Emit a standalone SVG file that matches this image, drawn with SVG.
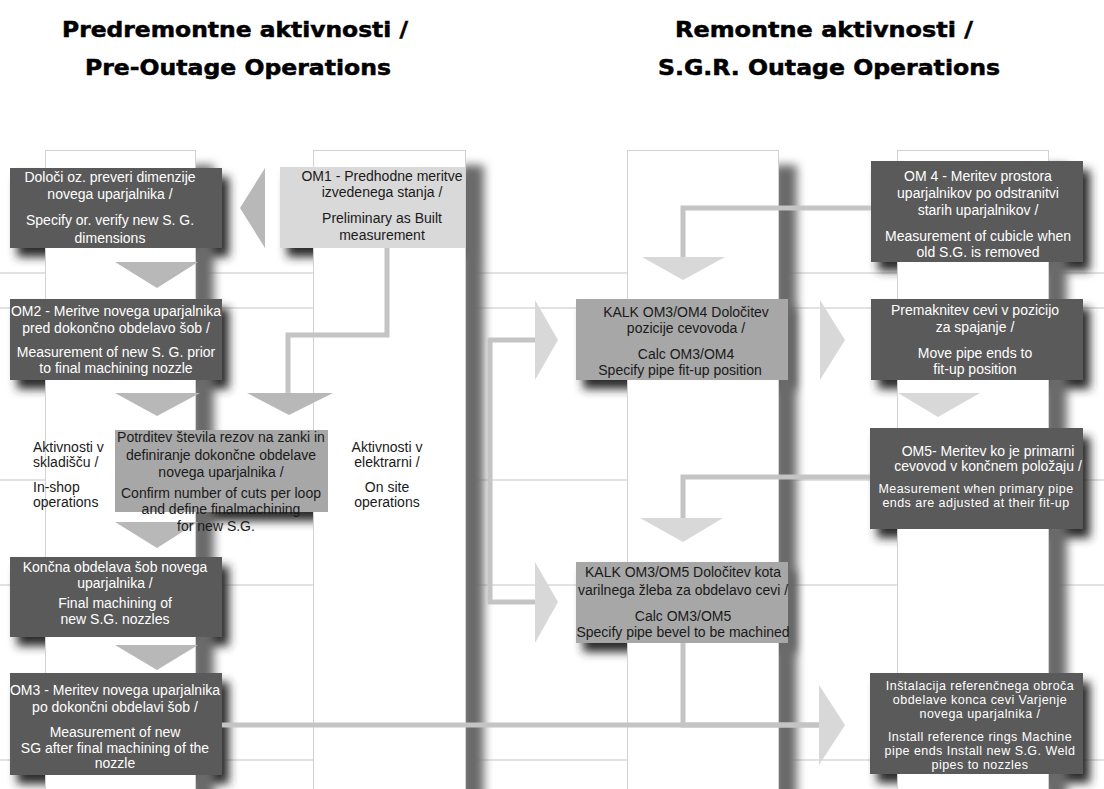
<svg xmlns="http://www.w3.org/2000/svg" width="1104" height="789" viewBox="0 0 1104 789">
<defs>
<filter id="blur" x="-20%" y="-20%" width="140%" height="140%"><feGaussianBlur stdDeviation="5"/></filter>
<filter id="cblur" x="-50%" y="-5%" width="200%" height="110%"><feGaussianBlur stdDeviation="5"/></filter>
</defs>
<style>
.col{fill:#ffffff;stroke:#d2d2d2;stroke-width:1}
.dk{fill:#5a5a5a}
.md{fill:#a7a7a7}
.lt{fill:#d9d9d9}
.tw{font-family:"Liberation Sans",Arial,sans-serif;font-size:14px;fill:#ffffff;text-anchor:middle}
.ts{font-size:12.5px;letter-spacing:0.45px}
.tb{font-family:"Liberation Sans",Arial,sans-serif;font-size:14px;fill:#1a1a1a;text-anchor:middle}
.tl{font-family:"Liberation Sans",Arial,sans-serif;font-size:14px;fill:#1a1a1a}
.h{font-family:"DejaVu Sans",sans-serif;font-weight:bold;font-size:21px;fill:#000;stroke:#000;stroke-width:0.5;text-anchor:middle}
.bar{fill:none;stroke:#c4c4c4;stroke-width:5}
.a1{fill:#b8b8b8}
.a2{fill:#d8d8d8}
.hl{stroke:#e2e2e2;stroke-width:2}
.sh{fill:#2a2a2a}
.csh{fill:#6a6a6a}
</style>
<rect x="0" y="0" width="1104" height="789" fill="#ffffff"/>

<g id="headings">
<text class="h" x="235" y="37" textLength="346" lengthAdjust="spacingAndGlyphs">Predremontne aktivnosti /</text>
<text class="h" x="238" y="75" textLength="306" lengthAdjust="spacingAndGlyphs">Pre-Outage Operations</text>
<text class="h" x="824" y="37" textLength="298" lengthAdjust="spacingAndGlyphs">Remontne aktivnosti  /</text>
<text class="h" x="829" y="75" textLength="342" lengthAdjust="spacingAndGlyphs">S.G.R. Outage Operations</text>
</g>

<g id="gridlines">
<line class="hl" x1="0" y1="273" x2="1104" y2="273"/>
<line class="hl" x1="0" y1="308" x2="1104" y2="308"/>
<line class="hl" x1="0" y1="480" x2="1104" y2="480"/>
<line class="hl" x1="0" y1="585" x2="1104" y2="585"/>
<line class="hl" x1="0" y1="760" x2="1104" y2="760"/>
</g>

<g id="shadows" filter="url(#blur)">
<rect class="sh" x="17" y="177" width="212" height="80"/>
<rect class="sh" x="287" y="176" width="185" height="81"/>
<rect class="sh" x="17" y="308" width="212" height="81"/>
<rect class="sh" x="122" y="439" width="213" height="82"/>
<rect class="sh" x="17" y="566" width="212" height="80"/>
<rect class="sh" x="17" y="682" width="212" height="102"/>
<rect class="sh" x="583" y="308" width="212" height="81"/>
<rect class="sh" x="583" y="571" width="212" height="81"/>
<rect class="sh" x="878" y="170" width="212" height="101"/>
<rect class="sh" x="878" y="308" width="212" height="81"/>
<rect class="sh" x="877" y="437" width="213" height="101"/>
<rect class="sh" x="877" y="682" width="213" height="101"/>
</g>

<g id="columns">
<g filter="url(#cblur)">
<rect class="csh" x="190" y="165" width="24" height="640"/>
<rect class="csh" x="460" y="165" width="24" height="640"/>
<rect class="csh" x="773" y="165" width="24" height="640"/>
<rect class="csh" x="1043" y="165" width="24" height="640"/>
</g>
<rect class="col" x="45.5" y="150.5" width="150" height="650"/>
<rect class="col" x="313.5" y="150.5" width="152" height="650"/>
<rect class="col" x="627.5" y="150.5" width="151" height="650"/>
<rect class="col" x="897.5" y="150.5" width="151" height="650"/>
</g>

<g id="connectors">
<polygon class="a1" points="265,168 265,248 240,208"/>
<polygon class="a1" points="115,262 198,262 157,288"/>
<polygon class="a1" points="115,393 200,393 157,416"/>
<polygon class="a1" points="115,522 198,522 157,548"/>
<polygon class="a1" points="115,645 198,645 157,670"/>
<path class="bar" d="M387 248 V335 H288 V393" stroke="#b8b8b8"/>
<polygon class="a1" points="247,393 333,393 289,415"/>
<path class="bar" d="M537 340 H490 V602 H537"/>
<polygon class="a2" points="535,300 535,380 558,340"/>
<polygon class="a2" points="535,562 535,643 558,602"/>
<polygon class="a2" points="820,300 820,380 845,340"/>
<path class="bar" d="M871 208 H683 V258"/>
<polygon class="a2" points="642,257 725,257 683,280"/>
<polygon class="a2" points="898,393 980,393 938,417"/>
<path class="bar" d="M870 477 H683 V519"/>
<polygon class="a2" points="640,518 723,518 683,542"/>
<path class="bar" d="M683 643 V725 H821"/>
<path class="bar" d="M222 725 H821"/>
<polygon class="a2" points="819,685 819,765 845,725"/>
</g>

<g id="n-dimenzije">
<rect class="dk" x="10" y="168" width="212" height="80"/>
<text class="tw" x="110" y="182">Določi oz. preveri dimenzije</text>
<text class="tw" x="110" y="199">novega uparjalnika  /</text>
<text class="tw" x="110" y="225">Specify or. verify new S. G.</text>
<text class="tw" x="110" y="243">dimensions</text>
</g>

<g id="n-om1">
<rect class="lt" x="280" y="167" width="185" height="81"/>
<text class="tb" x="382" y="181">OM1 - Predhodne meritve</text>
<text class="tb" x="382" y="197">izvedenega stanja /</text>
<text class="tb" x="382" y="223">Preliminary as Built</text>
<text class="tb" x="382" y="240">measurement</text>
</g>

<g id="n-om2">
<rect class="dk" x="10" y="299" width="212" height="81"/>
<text class="tw" x="116" y="316">OM2 - Meritve novega uparjalnika</text>
<text class="tw" x="116" y="333">pred dokončno obdelavo šob /</text>
<text class="tw" x="116" y="357">Measurement of new S. G. prior</text>
<text class="tw" x="116" y="373">to final machining nozzle</text>
</g>

<g id="n-potrditev">
<rect class="md" x="115" y="430" width="213" height="82"/>
<text class="tb" x="221" y="442">Potrditev števila rezov na zanki in</text>
<text class="tb" x="221" y="460">definiranje dokončne obdelave</text>
<text class="tb" x="221" y="477">novega uparjalnika /</text>
<text class="tb" x="221" y="498">Confirm number of cuts per loop</text>
<text class="tb" x="221" y="514">and define finalmachining</text>
<text class="tb" x="216" y="531">for new S.G.</text>
</g>

<g id="l-inshop">
<text class="tl" x="33" y="452">Aktivnosti v</text>
<text class="tl" x="33" y="467">skladišču /</text>
<text class="tl" x="33" y="492">In-shop</text>
<text class="tl" x="33" y="507">operations</text>
</g>

<g id="l-onsite">
<text class="tb" x="387" y="452">Aktivnosti v</text>
<text class="tb" x="387" y="467">elektrarni /</text>
<text class="tb" x="387" y="492">On site</text>
<text class="tb" x="387" y="507">operations</text>
</g>

<g id="n-koncna">
<rect class="dk" x="10" y="557" width="212" height="80"/>
<text class="tw" x="115" y="572">Končna obdelava šob novega</text>
<text class="tw" x="115" y="588">uparjalnika /</text>
<text class="tw" x="115" y="608">Final machining of</text>
<text class="tw" x="115" y="624">new S.G. nozzles</text>
</g>

<g id="n-om3">
<rect class="dk" x="10" y="673" width="212" height="102"/>
<text class="tw" x="115" y="695">OM3 - Meritev novega uparjalnika</text>
<text class="tw" x="115" y="712">po dokončni obdelavi šob /</text>
<text class="tw" x="115" y="737">Measurement of new</text>
<text class="tw" x="115" y="753">SG after final machining of the</text>
<text class="tw" x="115" y="768">nozzle</text>
</g>

<g id="n-kalk-om4">
<rect class="md" x="576" y="299" width="212" height="81"/>
<text class="tb" x="686" y="317">KALK OM3/OM4 Določitev</text>
<text class="tb" x="686" y="333">pozicije cevovoda /</text>
<text class="tb" x="686" y="359">Calc OM3/OM4</text>
<text class="tb" x="680" y="375">Specify pipe fit-up position</text>
</g>

<g id="n-kalk-om5">
<rect class="md" x="576" y="562" width="212" height="81"/>
<text class="tb" x="683" y="577">KALK OM3/OM5 Določitev kota</text>
<text class="tb" x="683" y="595">varilnega žleba za obdelavo cevi /</text>
<text class="tb" x="683" y="621">Calc OM3/OM5</text>
<text class="tb" x="683" y="637">Specify pipe bevel to be machined</text>
</g>

<g id="n-om4">
<rect class="dk" x="871" y="161" width="212" height="101"/>
<text class="tw" x="978" y="181">OM 4  - Meritev prostora</text>
<text class="tw" x="978" y="198">uparjalnikov po odstranitvi</text>
<text class="tw" x="978" y="215">starih uparjalnikov /</text>
<text class="tw" x="978" y="241">Measurement of cubicle when</text>
<text class="tw" x="978" y="257">old S.G. is removed</text>
</g>

<g id="n-premaknitev">
<rect class="dk" x="871" y="299" width="212" height="81"/>
<text class="tw" x="975" y="315">Premaknitev cevi v pozicijo</text>
<text class="tw" x="975" y="332">za spajanje /</text>
<text class="tw" x="975" y="358">Move pipe ends to</text>
<text class="tw" x="975" y="374">fit-up position</text>
</g>

<g id="n-om5">
<rect class="dk" x="870" y="428" width="213" height="101"/>
<text class="tw" x="988" y="456">OM5- Meritev ko je primarni</text>
<text class="tw" x="988" y="471">cevovod v končnem položaju /</text>
<text class="tw ts" x="976" y="493">Measurement when primary pipe</text>
<text class="tw ts" x="976" y="507">ends are adjusted at their fit-up</text>
</g>

<g id="n-instalacija">
<rect class="dk" x="870" y="673" width="213" height="101"/>
<text class="tw ts" x="980" y="690">Inštalacija referenčnega obroča</text>
<text class="tw ts" x="980" y="704">obdelave konca cevi Varjenje</text>
<text class="tw ts" x="980" y="718">novega uparjalnika /</text>
<text class="tw ts" x="980" y="741">Install reference rings Machine</text>
<text class="tw ts" x="980" y="755">pipe ends Install new S.G. Weld</text>
<text class="tw ts" x="980" y="769">pipes to nozzles</text>
</g>
</svg>
